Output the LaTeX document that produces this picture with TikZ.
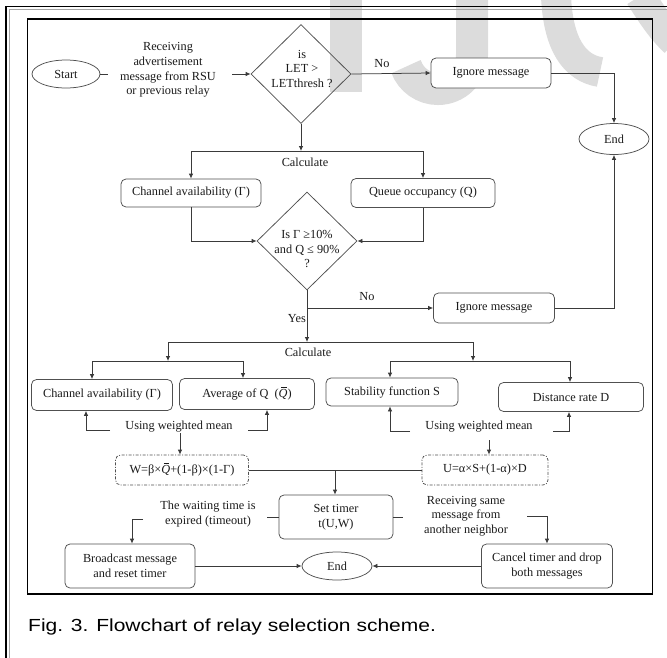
\documentclass[tikz,border=0pt]{standalone}
\usepackage{fontspec}
\setmainfont{Liberation Serif}
\newfontfamily\capfont[FakeStretch=1.2]{Liberation Sans}
\usetikzlibrary{shapes.geometric,arrows.meta}
\definecolor{ln}{HTML}{3A3A3A}
\definecolor{bd}{HTML}{505050}
\definecolor{txt}{HTML}{1A1A1A}
\definecolor{wm}{HTML}{DCDCDC}
\newcommand\myqbar{\rlap{\hspace{0.2em}\rule[0.8em]{0.45em}{0.055em}}{\itshape Q}}
\begin{document}
\begin{tikzpicture}[x=1pt,y=-1pt,
  every node/.style={font=\fontsize{12.3}{14.6}\selectfont,text=txt,inner sep=0pt},
  box/.style={draw=bd,line width=0.75pt,rounded corners=5pt,align=center},
  dbox/.style={draw=bd,line width=0.75pt,rounded corners=5pt,dash pattern=on 3pt off 1.5pt on 1pt off 1.5pt,align=center},
  term/.style={draw=bd,line width=0.75pt,ellipse},
  dec/.style={draw=bd,line width=0.75pt,diamond},
  lbl/.style={align=center},
  con/.style={draw=ln,line width=0.75pt},
  arr/.style={con,-{Latex[length=5pt,width=4.5pt]}}]
\useasboundingbox (0,0) rectangle (667,657);
% watermark
\fill[wm] (330,-2) rectangle (362,92);
\draw[wm,line width=32pt] (472,-2) -- (472,55) arc[start angle=0,end angle=160,radius=34];
\draw[wm,line width=30pt] (556,-4) .. controls (558,45) and (575,68) .. (600,72);
\draw[wm,line width=30pt] (640,-4) .. controls (652,15) and (662,30) .. (675,42);
% frames
\draw[black,line width=1.1pt] (6,670) -- (6,6.5) -- (670,6.5);
\draw[gray!70,line width=0.6pt] (8.8,670) -- (8.8,9) -- (670,9);
\draw[black,line width=1.8pt] (27.5,19) rectangle (652.5,594);
% nodes
\node[term,minimum width=68pt,minimum height=28pt] (start) at (66,74) {Start};
\node[lbl] (recv) at (168,70) {Receiving\\advertisement\\message from RSU\\or previous relay};
\node[dec,minimum width=100pt,minimum height=99pt] (d1) at (301,74) {};
\node[lbl] (d1t) at (302,69) {is\\LET >\\LETthresh ?};
\node[box,fill=white,minimum width=120pt,minimum height=30pt] (ign1) at (491,73) {Ignore message};
\node[term,minimum width=70pt,minimum height=31pt] (end1) at (614,139) {End};
\node (no1) at (382,64) {No};
\node (calc1) at (305,162) {Calculate};
\node[box,minimum width=140pt,minimum height=28pt] (ch1) at (191,193) {Channel availability (Γ)};
\node[box,minimum width=144pt,minimum height=29pt] (qo) at (423,193) {Queue occupancy (Q)};
\node[dec,minimum width=100pt,minimum height=98pt] (d2) at (307,241) {};
\node[lbl] (d2t) at (307,249) {Is Γ ≥10\%\\and Q ≤ 90\%\\?};
\node (no2) at (367,297) {No};
\node[anchor=east] (yes) at (306,319) {Yes};
\node[box,minimum width=121pt,minimum height=30pt] (ign2) at (494,308) {Ignore message};
\node (calc2) at (308,352) {Calculate};
\node[box,minimum width=141pt,minimum height=31pt] (ch2) at (102,395) {Channel availability (Γ)};
\node[box,minimum width=135pt,minimum height=31pt] (av) at (247,394) {Average of Q\ \ (\myqbar)};
\node[box,minimum width=132pt,minimum height=28pt] (stab) at (392,392) {Stability function S};
\node[box,minimum width=145pt,minimum height=29pt] (dr) at (571,397) {Distance rate D};
\node (uwl) at (179,427) {Using weighted mean};
\node (uwr) at (479,427) {Using weighted mean};
\node[dbox,minimum width=133pt,minimum height=30pt] (wb) at (182,470) {W=β×\myqbar+(1-β)×(1-Γ)};
\node[dbox,minimum width=126pt,minimum height=30pt] (ub) at (485,470) {U=α×S+(1-α)×D};
\node[box,minimum width=114pt,minimum height=44pt] (st) at (336,517) {Set timer\\t(U,W)};
\node[lbl] (wt) at (208,514) {The waiting time is\\expired (timeout)};
\node[lbl] (rt) at (466,516) {Receiving same\\message from\\another neighbor};
\node[box,minimum width=130pt,minimum height=44pt] (bc) at (130,566) {Broadcast message\\and reset timer};
\node[term,minimum width=70pt,minimum height=28pt] (end2) at (337,566) {End};
\node[box,minimum width=131pt,minimum height=44pt] (cn) at (547,566) {Cancel timer and drop\\both messages};
\node[anchor=base west,font=\capfont\fontsize{17.5}{20}\selectfont,text=black] (cap) at (28,631) {Fig. 3. Flowchart of relay selection scheme.};
% coordinates
\coordinate (r1) at (108,74);
\coordinate (r2) at (232,74);
\coordinate (c1) at (301,151);
\coordinate (c2) at (307,342);
\coordinate (j2) at (307,308);
\coordinate (l1) at (168,342);
\coordinate (l2) at (168,361);
\coordinate (l3) at (473,342);
\coordinate (l4) at (473,361);
\coordinate (a1) at (92,361);
\coordinate (a2) at (243,361);
\coordinate (a3) at (390,361);
\coordinate (a4) at (570,361);
\coordinate (u1) at (110,430);
\coordinate (u2) at (86,430);
\coordinate (u3) at (248,430);
\coordinate (u4) at (267,430);
\coordinate (v1) at (410,431);
\coordinate (v2) at (390,431);
\coordinate (v3) at (553,431);
\coordinate (v4) at (569,431);
\coordinate (wa) at (180,433);
\coordinate (ua) at (489,440);
\coordinate (jj) at (335,470);
\coordinate (s1) at (267,517);
\coordinate (s2) at (143,519);
\coordinate (s3) at (132,519);
\coordinate (t1) at (403,517);
\coordinate (t2) at (527,516);
\coordinate (t3) at (547,516);
% connectors
\draw[con] (start.east) -- (r1);
\draw[arr] (r2) -- (d1.west);
\draw[arr] (d1.east) -- (ign1.west);
\draw[arr] (ign1.east) -| (end1.north);
\draw[arr] (d1.south) -- (c1);
\draw[arr] (c1) -| (ch1.north);
\draw[arr] (c1) -| (qo.north);
\draw[arr] (ch1.south) |- (d2.west);
\draw[arr] (qo.south) |- (d2.east);
\draw[arr] (d2.south) -- (c2);
\draw[arr] (j2) -- (ign2.west);
\draw[arr] (ign2.east) -| (end1.south);
\draw[con] (l1) -- (l3);
\draw[arr] (l1) -- (l2);
\draw[arr] (l3) -- (l4);
\draw[con] (a1) -- (a2);
\draw[con] (a3) -- (a4);
\draw[arr] (a1) -- (a1 |- ch2.north);
\draw[arr] (a2) -- (a2 |- av.north);
\draw[arr] (a3) -- (a3 |- stab.north);
\draw[arr] (a4) -- (a4 |- dr.north);
\draw[arr] (u1) -- (u2) -- (u2 |- ch2.south);
\draw[arr] (u3) -- (u4) -- (u4 |- av.south);
\draw[arr] (v1) -- (v2) -- (v2 |- stab.south);
\draw[arr] (v3) -- (v4) -- (v4 |- dr.south);
\draw[arr] (wa) -- (wa |- wb.north);
\draw[arr] (ua) -- (ua |- ub.north);
\draw[con] (wb.east) -- (jj);
\draw[con] (ub.west) -- (jj);
\draw[arr] (jj) -- (jj |- st.north);
\draw[con] (st.west) -- (s1);
\draw[arr] (s2) -- (s3) -- (s3 |- bc.north);
\draw[con] (st.east) -- (t1);
\draw[arr] (t2) -- (t3) -- (t3 |- cn.north);
\draw[arr] (bc.east) -- (end2.west);
\draw[arr] (cn.west) -- (end2.east);
\end{tikzpicture}
\end{document}
